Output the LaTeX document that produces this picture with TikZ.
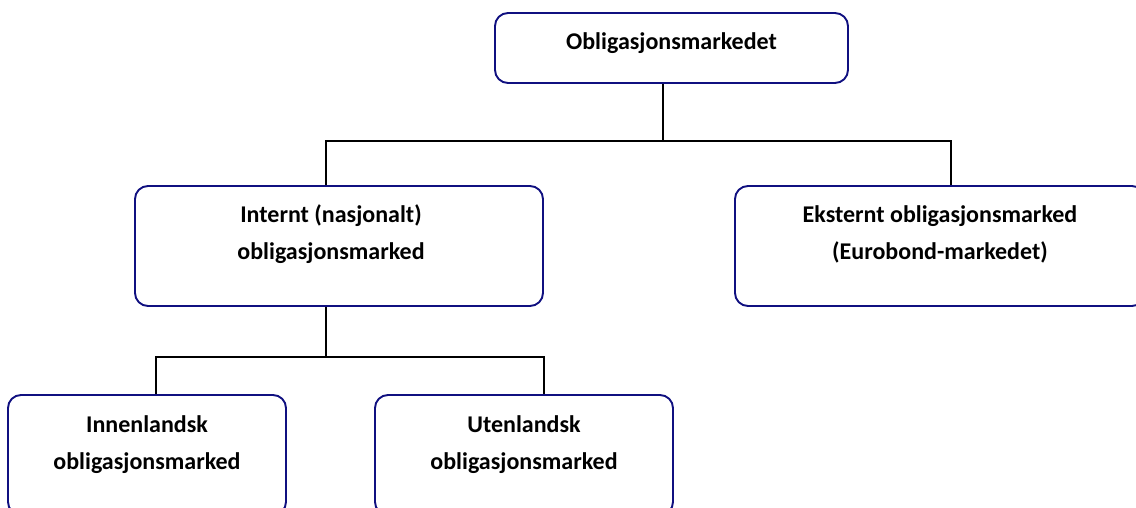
\documentclass[tikz,border=0pt]{standalone}
\usepackage{fontspec}
\setmainfont{Carlito}
\usepackage{tikz}
\usetikzlibrary{calc}
\definecolor{boxblue}{RGB}{16,16,128}

\begin{document}
\begin{tikzpicture}[x=1pt,y=-1pt,
  mkt/.style={draw=boxblue, line width=1.9pt, rounded corners=13pt, inner sep=0pt},
  lbl/.style={font=\fontsize{24}{37}\selectfont\bfseries, align=center},
  link/.style={draw=black, line width=1.9pt}]
\clip (0,0) rectangle (1136,508);
% boxes
\node[mkt, minimum width=353, minimum height=70] (top) at (671.5,48) {};
\node[mkt, minimum width=408, minimum height=120] (midL) at (339,246) {};
\node[mkt, minimum width=410, minimum height=120] (midR) at (940,246) {};
\node[mkt, minimum width=278, minimum height=120] (botL) at (147,455) {};
\node[mkt, minimum width=298, minimum height=120] (botM) at (524,455) {};
% texts
\node[lbl] (topT) at ($(top.north)+(0,31)$) {Obligasjonsmarkedet};
\node[lbl] (midLT) at ($(midL.north)+(-8,49)$) {Internt (nasjonalt)\\obligasjonsmarked};
\node[lbl] (midRT) at ($(midR.north)+(0,49)$) {Eksternt obligasjonsmarked\\(Eurobond-markedet)};
\node[lbl] (botLT) at ($(botL.north)+(0,51)$) {Innenlandsk\\obligasjonsmarked};
\node[lbl] (botMT) at ($(botM.north)+(0,51)$) {Utenlandsk\\obligasjonsmarked};
% connectors
\draw[link] ([xshift=-8.5pt]top.south) -- ++(0,57) coordinate (j1);
\draw[link] ([xshift=-13pt]midL.north) |- (j1) -| ([xshift=11pt]midR.north);
\draw[link] ([xshift=-13pt]midL.south) -- ++(0,50) coordinate (j2);
\draw[link] ([xshift=9pt]botL.north) |- (j2) -| ([xshift=20pt]botM.north);
\end{tikzpicture}
\end{document}
